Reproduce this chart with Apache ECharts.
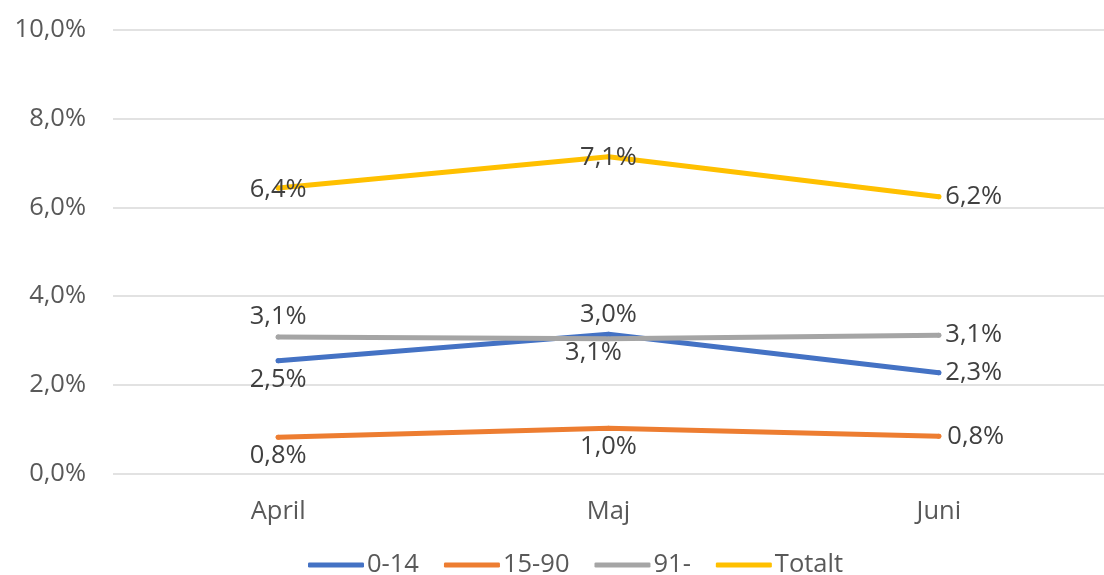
<!DOCTYPE html>
<html>
<head>
<meta charset="utf-8">
<script src="https://cdn.jsdelivr.net/npm/echarts@6/dist/echarts.min.js"></script>
<style>
html,body{margin:0;padding:0;background:#fff;}
#chart{width:1104px;height:575px;}
</style>
</head>
<body>
<div id="chart"></div>
<script>
var categories = ['April', 'Maj', 'Juni'];
var seriesNames = ['0-14', '15-90', '91-', 'Totalt'];
var s0_14 = [2.54, 3.14, 2.27];
var s15_90 = [0.82, 1.02, 0.84];
var s91 = [3.08, 3.04, 3.12];
var sTotalt = [6.44, 7.14, 6.24];
var yTicks = [0, 2, 4, 6, 8, 10];

var colors = ['#4472C4', '#ED7D31', '#A5A5A5', '#FFC000'];
var labelLayouts = [
  [{position: 'bottom', distance: 3}, {position: 'bottom', distance: 3, offset: [-15, 0]}, {position: 'right', distance: 4}],
  [{position: 'bottom', distance: 3}, {position: 'bottom', distance: 3}, {position: 'right', distance: 6}],
  [{position: 'top', distance: 5}, {position: 'top', distance: 8}, {position: 'right', distance: 4}],
  [{position: 'inside', offset: [0, 2]}, {position: 'inside', offset: [0, 1]}, {position: 'right', distance: 4}]
];
var allValues = [s0_14, s15_90, s91, sTotalt];
var FONT = '"Open Sans", "Liberation Sans", sans-serif';

function fmt(v) { return v.toFixed(1).replace('.', ',') + '%'; }

var series = allValues.map(function (vals, si) {
  return {
    name: seriesNames[si],
    type: 'line',
    symbol: 'circle',
    symbolSize: 5,
    showSymbol: true,
    lineStyle: {width: 5, color: colors[si], cap: 'round', join: 'round'},
    itemStyle: {color: colors[si]},
    emphasis: {disabled: true},
    data: vals.map(function (v, i) {
      var l = labelLayouts[si][i];
      return {
        value: v,
        label: Object.assign({
          show: true,
          formatter: function (p) { return fmt(p.value); },
          color: '#404040',
          fontSize: 25.5,
          fontFamily: FONT
        }, l)
      };
    })
  };
});

var chart = echarts.init(document.getElementById('chart'));
chart.setOption({
  animation: false,
  color: colors,
  grid: {left: 113, right: -17, top: 30, bottom: 101.5, containLabel: false},
  xAxis: {
    type: 'category',
    data: categories,
    boundaryGap: true,
    axisLine: {show: false},
    axisTick: {show: false},
    axisLabel: {color: '#595959', fontSize: 25.5, fontFamily: FONT, margin: 25}
  },
  yAxis: {
    type: 'value',
    min: yTicks[0],
    max: yTicks[yTicks.length - 1],
    interval: yTicks[1] - yTicks[0],
    axisLine: {show: false},
    axisTick: {show: false},
    splitLine: {lineStyle: {color: '#D9D9D9', width: 1.5}},
    axisLabel: {color: '#595959', fontSize: 25.5, fontFamily: FONT, margin: 27,
      formatter: function (v) { return fmt(v); }}
  },
  legend: {
    left: 303,
    top: 547,
    icon: 'roundRect',
    itemWidth: 56,
    itemHeight: 5,
    itemGap: 25,
    textStyle: {color: '#595959', fontSize: 25.5, fontFamily: FONT, padding: [0, 0, 0, -2]},
    data: seriesNames
  },
  series: series
});
</script>
</body>
</html>
